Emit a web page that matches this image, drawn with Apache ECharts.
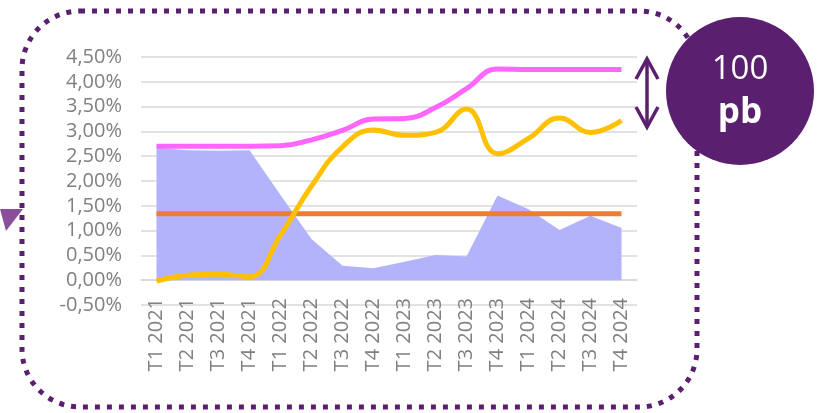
<!DOCTYPE html>
<html><head><meta charset="utf-8">
<script src="https://cdn.jsdelivr.net/npm/echarts@6/dist/echarts.min.js"></script>
<style>html,body{margin:0;padding:0;background:#fff}#c{width:820px;height:413px}</style>
</head><body><div id="c"></div>
<script>
var categories = ['T1 2021','T2 2021','T3 2021','T4 2021','T1 2022','T2 2022','T3 2022','T4 2022','T1 2023','T2 2023','T3 2023','T4 2023','T1 2024','T2 2024','T3 2024','T4 2024'];
var areaValues = [2.67,2.62,2.61,2.62,1.72,0.83,0.29,0.24,0.37,0.51,0.48,1.71,1.43,1.01,1.30,1.05];
var flatValues = [1.34,1.34,1.34,1.34,1.34,1.34,1.34,1.34,1.34,1.34,1.34,1.34,1.34,1.34,1.34,1.34];
var yellowValues = [-0.02,0.10,0.12,0.07,0.91,1.90,2.69,3.03,2.92,2.98,3.45,2.55,2.86,3.27,2.98,3.22];
var pinkValues = [2.70,2.70,2.70,2.70,2.71,2.83,3.02,3.25,3.26,3.48,3.86,4.26,4.25,4.25,4.25,4.25];
var yTicks = {min:-0.5, max:4.5, interval:0.5};
var badgeTop = '100';
var badgeBottom = 'pb';

var purple = '#5b1f6f';
var chart = echarts.init(document.getElementById('c'));
chart.setOption({
  animation:false,
  grid:{left:141,right:183,top:57,bottom:108},
  xAxis:{type:'category',data:categories,boundaryGap:true,
    axisLine:{show:true,lineStyle:{color:'#d9d9d9',width:1.5}},
    axisTick:{show:false},
    axisLabel:{rotate:90,margin:-7,color:'#808080',fontSize:20,fontFamily:'Open Sans',interval:0}},
  yAxis:{type:'value',min:yTicks.min,max:yTicks.max,interval:yTicks.interval,
    axisLine:{show:false},axisTick:{show:false},
    splitLine:{lineStyle:{color:'#d9d9d9',width:1.5}},
    axisLabel:{margin:19,color:'#808080',fontSize:20,fontFamily:'Open Sans',
      formatter:function(v){return v.toFixed(2).replace('.',',')+'%';}}},
  series:[
    {type:'line',data:areaValues,symbol:'none',lineStyle:{width:0},areaStyle:{color:'#b3b3fb',opacity:1},z:1},
    {type:'line',data:flatValues,symbol:'none',lineStyle:{color:'#ed7d31',width:5},z:2},
    {type:'line',data:yellowValues,symbol:'none',smooth:0.45,lineStyle:{color:'#ffc000',width:5},z:3},
    {type:'line',data:pinkValues,symbol:'none',smooth:0.45,lineStyle:{color:'#ff66ff',width:5},z:4}
  ],
  graphic:[
    {type:'rect',shape:{x:22,y:11,width:675,height:396,r:58},style:{fill:null,stroke:purple,lineWidth:5,lineDash:[5,7]},z:1},
    {type:'polygon',shape:{points:[[0,209],[23,209],[6,231]]},style:{fill:'#8b4f9a'},z:2},
    {type:'circle',shape:{cx:740,cy:91,r:74},style:{fill:purple},z:10},
    {type:'text',x:740,y:70,style:{text:badgeTop,fill:'#fff',font:'33px "Open Sans"',align:'center',verticalAlign:'middle'},z:11},
    {type:'text',x:740,y:113,style:{text:badgeBottom,fill:'#fff',font:'bold 35px "Open Sans"',align:'center',verticalAlign:'middle'},z:11},
    {type:'line',shape:{x1:647,y1:59,x2:647,y2:127},style:{stroke:purple,lineWidth:3.5},z:10},
    {type:'polyline',shape:{points:[[636,79],[647,59],[658,79]]},style:{stroke:purple,lineWidth:3.5,fill:null},z:10},
    {type:'polyline',shape:{points:[[636,107],[647,127],[658,107]]},style:{stroke:purple,lineWidth:3.5,fill:null},z:10}
  ]
});
</script></body></html>
